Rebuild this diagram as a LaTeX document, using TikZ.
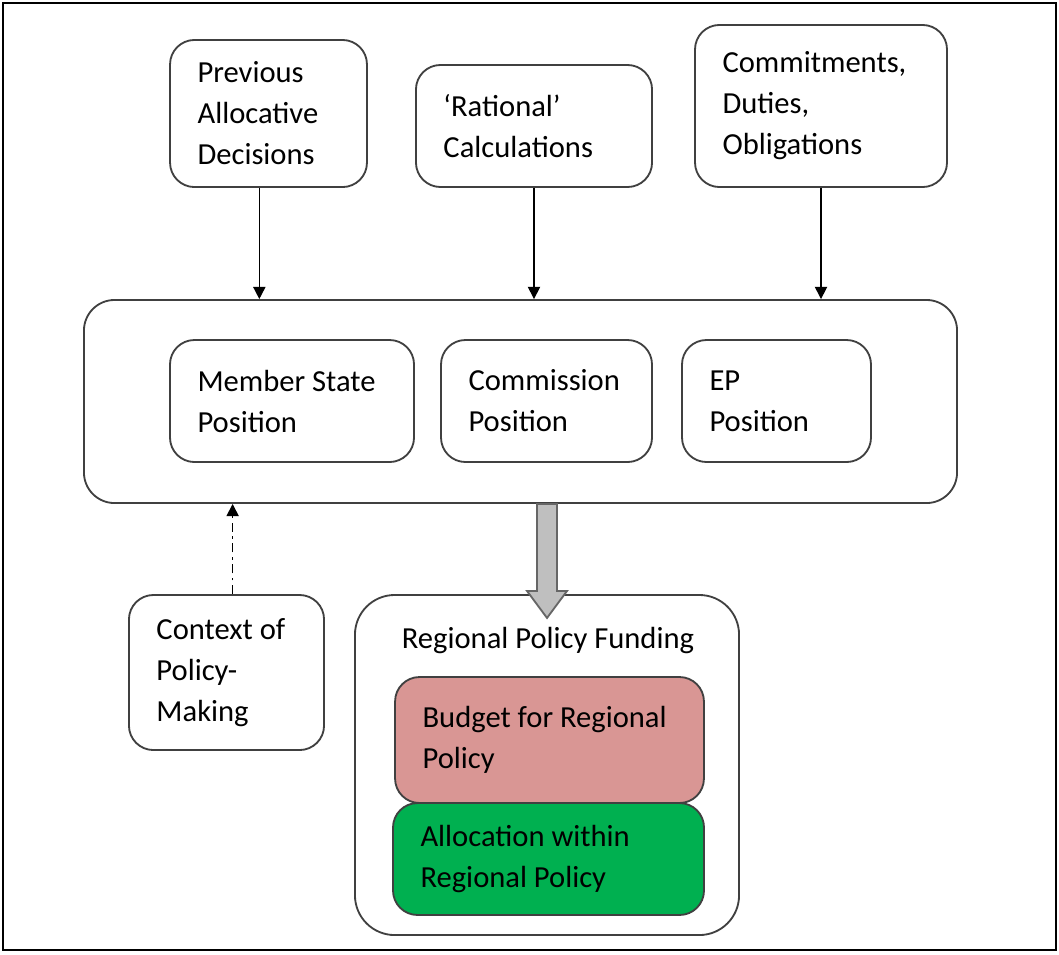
\documentclass[tikz,border=0pt]{standalone}
\usepackage{fontspec}
\setmainfont{Carlito}
\usetikzlibrary{arrows.meta,positioning}

\definecolor{budgetpink}{HTML}{D99694}
\definecolor{allocgreen}{HTML}{00B050}

\begin{document}
\begin{tikzpicture}[
    x=0.327pt, y=-0.327pt,
    font=\fontsize{10}{13.4}\selectfont,
    box/.style 2 args={draw=black!75, line width=0.6pt, rounded corners=8pt,
        align=flush left, inner xsep=9pt, inner ysep=0pt,
        text width=#1, minimum height=#2},
    arrow/.style={-{Triangle[length=4pt,width=4pt]}, line width=0.5pt}
]
\useasboundingbox (0,0) rectangle (1059,954);

% Outer frame
\draw[line width=0.7pt] (3,3) rectangle (1056,950);

% Inputs on top
\node[box={46.4pt}{48.1pt}] (prev) at (268.5,113.5) {Previous\\Allocative\\Decisions};
\node[box={59.2pt}{39.9pt}] (rational) at (534,126) {‘Rational’\\Calculations};
\node[box={64.4pt}{53pt}] (commit) at (821,106) {Commitments,\\Duties,\\Obligations};

% Positions of the actors
\node[box={267.5pt}{66.4pt}, rounded corners=10pt] (positions) at (520.5,401.5) {};
\node[box={61.8pt}{39.9pt}] (member) at (292,401) {Member State\\Position};
\node[box={51pt}{39.9pt}] (commission) at (546.5,401) {Commission\\Position};
\node[box={43.8pt}{39.9pt}] (ep) at (776.5,401) {EP\\Position};

\draw[arrow] ([xshift=-3pt]prev.south) -- ([xshift=-3pt]prev.south |- positions.north);
\draw[arrow] (rational.south) -- (rational.south |- positions.north);
\draw[arrow] (commit.south) -- (commit.south |- positions.north);

% Context
\node[box={45.8pt}{50.7pt}] (context) at (226.5,672.5) {Context of\\Policy-\\Making};
\draw[arrow, dash pattern=on 3pt off 1.5pt on 0.8pt off 1.5pt]
    ([xshift=2pt]context.north) -- ([xshift=2pt]context.north |- positions.south);

% Outcome
\node[box={107.6pt}{111.2pt}, rounded corners=13pt] (funding) at (547,765) {};
\node (fundtitle) at (548,640) {Regional Policy Funding};
\node[box={83pt}{41.2pt}, fill=budgetpink] (budget) at (549.5,740) {Budget for Regional\\Policy};
\node[box={83.7pt}{36.6pt}, fill=allocgreen] (alloc) at (548.5,859) {Allocation within\\Regional Policy};

% Block arrow down to the funding box
\coordinate (blk) at (positions.south -| funding.north);
\begin{scope}[shift={(blk)}]
\draw[draw=black!60, fill=black!25, line width=0.6pt]
    (-10,0) -- (-10,87) -- (-20,87) -- (0,114) -- (20,87) -- (10,87) -- (10,0) -- cycle;
\end{scope}

\end{tikzpicture}
\end{document}
